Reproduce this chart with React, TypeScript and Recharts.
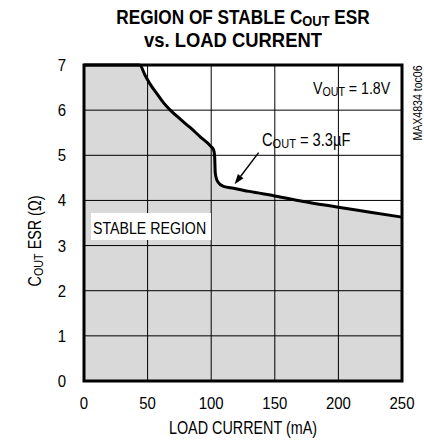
import React from 'react'
import {
  ComposedChart,
  Area,
  XAxis,
  YAxis,
  CartesianGrid,
  ReferenceArea,
  ReferenceLine,
} from 'recharts'

// ---------------------------------------------------------------------------
// Data read off the MAX4834 "region of stable COUT ESR" plot
// ---------------------------------------------------------------------------

const LOAD_CURRENT_MA = [
  0, 43.7, 48.2, 52.1, 57.4, 62.6, 67.8, 75.7, 83.6, 91.4, 99.3, 101.9,
  102.7, 103.2, 105, 109.7, 117.6, 130, 150, 178, 200, 225, 250,
]
const ESR_OHM = [
  7, 7, 6.76, 6.57, 6.36, 6.16, 6.0, 5.8, 5.61, 5.41, 5.21, 5.12,
  4.98, 4.61, 4.42, 4.31, 4.27, 4.2, 4.1, 3.95, 3.85, 3.74, 3.63,
]
const X_TICKS = [0, 50, 100, 150, 200, 250]
const Y_TICKS = [0, 1, 2, 3, 4, 5, 6, 7]

// annotation arrow for "COUT = 3.3uF" (data coords)
const ARROW_FROM = { x: 137.3, y: 5.06 }
const ARROW_TO = { x: 118.4, y: 4.36 }

const data = LOAD_CURRENT_MA.map((x, i) => ({ x, esr: ESR_OHM[i] }))

// no condensed face installed, so text is squeezed with scaleX
const FONT = "'Liberation Sans', Arial, sans-serif"

// ---------------------------------------------------------------------------
// Helpers
// ---------------------------------------------------------------------------

function Sub({ children }: { children: React.ReactNode }) {
  return <span style={{ fontSize: '0.75em', position: 'relative', top: '0.15em' }}>{children}</span>
}

/** Absolutely placed text, positioned by its baseline. */
function Txt({
  x,
  base,
  size,
  sx = 0.82,
  anchor = 'start',
  bold = false,
  children,
}: {
  x: number
  base: number
  size: number
  sx?: number
  anchor?: 'start' | 'middle' | 'end'
  bold?: boolean
  children: React.ReactNode
}) {
  const shift = anchor === 'middle' ? '-50%' : anchor === 'end' ? '-100%' : '0'
  return (
    <div
      style={{
        position: 'absolute',
        left: x,
        top: base - 0.8465 * size,
        fontSize: size,
        lineHeight: `${size}px`,
        fontWeight: bold ? 700 : 400,
        whiteSpace: 'nowrap',
        transformOrigin: '0 0',
        transform: `scaleX(${sx}) translateX(${shift})`,
      }}
    >
      {children}
    </div>
  )
}

/** Vertical text reading bottom to top, centred on (cx, cy). */
function VTxt({
  cx,
  cy,
  size,
  sx = 0.82,
  children,
}: {
  cx: number
  cy: number
  size: number
  sx?: number
  children: React.ReactNode
}) {
  return (
    <div
      style={{
        position: 'absolute',
        left: cx,
        top: cy,
        fontSize: size,
        lineHeight: `${size}px`,
        whiteSpace: 'nowrap',
        transform: `translate(-50%, -50%) rotate(-90deg) scaleX(${sx})`,
      }}
    >
      {children}
    </div>
  )
}

function NarrowTick(props: any) {
  const { x, y, payload, textAnchor, orientation } = props
  const dy = orientation === 'bottom' ? '0.71em' : '0.355em'
  return (
    <text
      transform={`translate(${x},${y}) scale(0.88,1)`}
      textAnchor={textAnchor}
      fontSize={17}
      fontFamily={FONT}
      fill="#000"
      dy={dy}
    >
      {payload.value}
    </text>
  )
}

function Arrow(props: any) {
  const { x1, y1, x2, y2 } = props
  const dx = x2 - x1
  const dy = y2 - y1
  const len = Math.hypot(dx, dy) || 1
  const ux = dx / len
  const uy = dy / len
  const hl = 10
  const hw = 3.5
  const bx = x2 - ux * hl
  const by = y2 - uy * hl
  const pts = `${x2},${y2} ${bx - uy * hw},${by + ux * hw} ${bx + uy * hw},${by - ux * hw}`
  return (
    <g>
      <line x1={x1} y1={y1} x2={bx} y2={by} stroke="#000" strokeWidth={1.4} />
      <polygon points={pts} fill="#000" />
    </g>
  )
}

// ---------------------------------------------------------------------------
// Component
// ---------------------------------------------------------------------------

export default function App() {
  return (
    <div
      style={{
        position: 'absolute',
        left: 0,
        top: 0,
        width: 424,
        height: 443,
        background: '#fff',
        color: '#000',
        fontFamily: FONT,
      }}
    >
      <ComposedChart
        width={424}
        height={443}
        data={data}
        margin={{ top: 65, right: 22, bottom: 32, left: 44 }}
      >
        <CartesianGrid stroke="#000" strokeWidth={1} />
        <XAxis
          dataKey="x"
          type="number"
          domain={[0, 250]}
          ticks={X_TICKS}
          interval={0}
          height={30}
          tickLine={false}
          axisLine={false}
          tickMargin={10}
          tick={<NarrowTick />}
        />
        <YAxis
          type="number"
          domain={[0, 7]}
          ticks={Y_TICKS}
          interval={0}
          width={40}
          tickLine={false}
          axisLine={false}
          tickMargin={12}
          tick={<NarrowTick />}
        />
        <Area
          type="monotone"
          dataKey="esr"
          stroke="#000"
          strokeWidth={3}
          strokeLinejoin="round"
          fill="#000"
          fillOpacity={0.15}
          dot={false}
          activeDot={false}
          isAnimationActive={false}
        />
        <ReferenceArea x1={0} x2={250} y1={0} y2={7} fill="none" stroke="#000" strokeWidth={3} />
        <ReferenceLine segment={[ARROW_FROM, ARROW_TO]} shape={Arrow} />
      </ComposedChart>

      {/* title */}
      <Txt x={242.5} base={23.5} size={20} sx={0.86} anchor="middle" bold>
        REGION OF STABLE C<Sub>OUT</Sub> ESR
      </Txt>
      <Txt x={233} base={47} size={20} sx={0.92} anchor="middle" bold>
        vs. LOAD CURRENT
      </Txt>

      {/* annotations */}
      <Txt x={313} base={94.5} size={17.3}>
        V<Sub>OUT</Sub> = 1.8V
      </Txt>
      <Txt x={262} base={146.5} size={17.5} sx={0.84}>
        C<Sub>OUT</Sub> = 3.3µF
      </Txt>
      <div style={{ position: 'absolute', left: 91, top: 213, width: 120, height: 27, background: '#fff' }} />
      <Txt x={93} base={235} size={17.3}>
        STABLE REGION
      </Txt>

      {/* axis titles */}
      <Txt x={242.5} base={435} size={17.5} anchor="middle">
        LOAD CURRENT (mA)
      </Txt>
      <VTxt cx={35.5} cy={241} size={17.5}>
        C<Sub>OUT</Sub> ESR (Ω)
      </VTxt>
      <VTxt cx={418} cy={102.5} size={12} sx={0.88}>
        MAX4834 toc06
      </VTxt>
    </div>
  )
}
